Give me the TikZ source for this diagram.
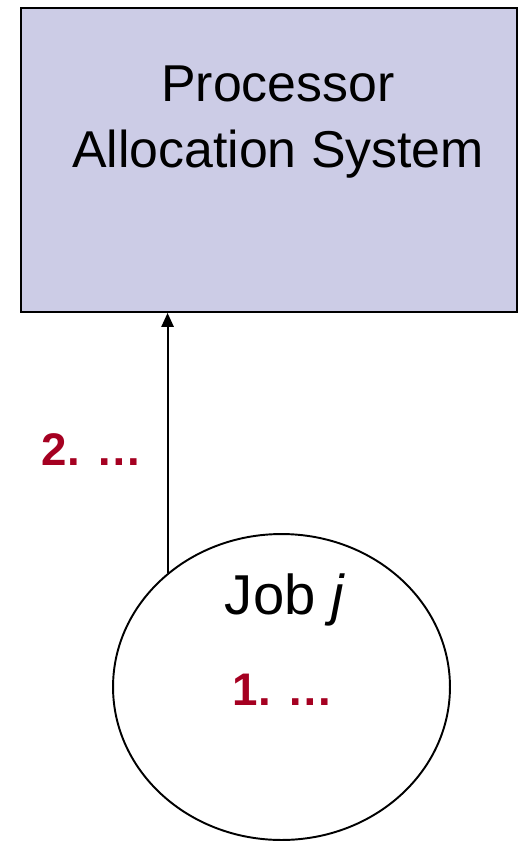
\documentclass[tikz,border=0pt]{standalone}
\usepackage{fontspec}
\setmainfont{Liberation Sans}
\usetikzlibrary{shapes.geometric,arrows.meta}

\definecolor{pasfill}{RGB}{204,204,230}
\definecolor{stepred}{RGB}{165,0,33}

\tikzset{
    sysbox/.style={draw=black, line width=1.1pt, fill=pasfill,
        minimum width=9.92cm, minimum height=6.08cm, inner sep=0pt},
    jobnode/.style={ellipse, draw=black, line width=1.1pt,
        minimum width=6.74cm, minimum height=6.12cm, inner sep=0pt},
    stepnote/.style={text=stepred, font=\fontsize{26}{30}\selectfont\bfseries, inner sep=0pt},
    request/.style={line width=1.1pt, -{Triangle[width=7pt,length=8pt]}}
}

\begin{document}
\begin{tikzpicture}[x=0.02cm, y=-0.02cm]

    % Page frame
    \useasboundingbox (0,0) rectangle (520,842);

    % Allocation system box
    \node[sysbox] (pas) at (269,160) {};
    \node[align=center, anchor=base, inner sep=0pt,
          font=\fontsize{29.5}{37}\selectfont] (pastitle) at (278,167)
        {Processor\\Allocation System};

    % The job
    \node[jobnode] (job) at (281.5,687) {};
    \node[anchor=base, inner sep=0pt, font=\fontsize{32}{38}\selectfont]
        (jobname) at (285,614) {Job \textit{j}};
    \node[stepnote, anchor=base] (note1) at (283,705) {1. …};

    % Request from the job to the system
    \draw[request] (job.135) -- (job.135 |- pas.south);
    \node[stepnote, anchor=base] (note2) at (92,465) {2. …};

\end{tikzpicture}
\end{document}
